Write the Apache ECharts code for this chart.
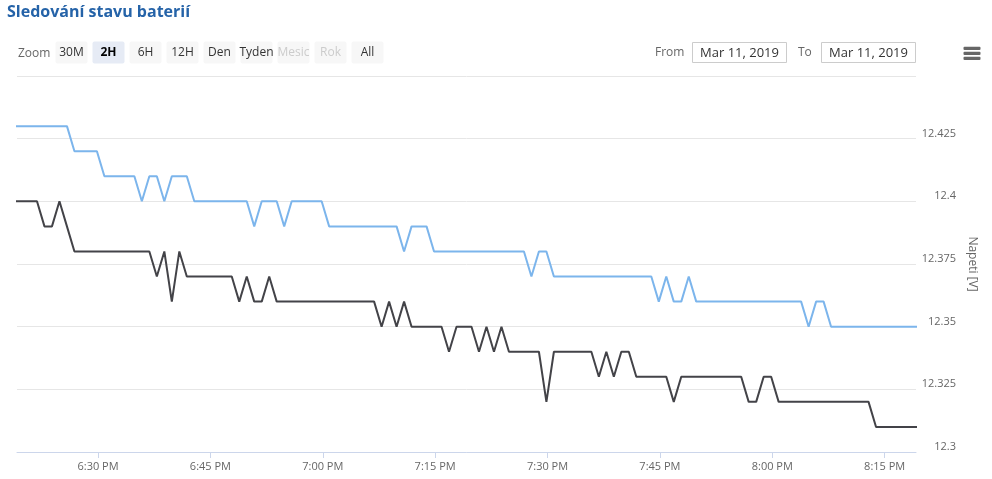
<!DOCTYPE html>
<html><head><meta charset="utf-8">
<script src="https://cdn.jsdelivr.net/npm/echarts@6/dist/echarts.min.js"></script>
<style>html,body{margin:0;padding:0;background:#fff}#c{width:992px;height:479px}</style>
</head><body><div id="c"></div>
<script>
// ---------- data ----------
const titleText = 'Sledování stavu baterií';
const yAxisName = 'Napeti [V]';
// one reading per minute, first reading 11 Mar 2019 18:17:51
const sampleStart = [2019, 2, 11, 18, 17, 51];
const sampleStepSec = 60;
const viewStart = [2019, 2, 11, 18, 19, 11];
const viewEnd   = [2019, 2, 11, 20, 19, 11];

const blueName = 'Baterie 1';
const blueValues = [
  12.43,12.43,12.43,12.43,12.43,12.43,12.43,12.43,12.43,
  12.42,12.42,12.42,12.42,
  12.41,12.41,12.41,12.41,12.41,
  12.40,12.41,12.41,12.40,12.41,12.41,12.41,
  12.40,12.40,12.40,12.40,12.40,12.40,12.40,12.40,
  12.39,12.40,12.40,12.40,12.39,
  12.40,12.40,12.40,12.40,12.40,
  12.39,12.39,12.39,12.39,12.39,12.39,12.39,12.39,12.39,12.39,
  12.38,12.39,12.39,12.39,
  12.38,12.38,12.38,12.38,12.38,12.38,12.38,12.38,12.38,12.38,12.38,12.38,12.38,
  12.37,12.38,12.38,
  12.37,12.37,12.37,12.37,12.37,12.37,12.37,12.37,12.37,12.37,12.37,12.37,12.37,12.37,
  12.36,12.37,12.36,12.36,12.37,
  12.36,12.36,12.36,12.36,12.36,12.36,12.36,12.36,12.36,12.36,12.36,12.36,12.36,12.36,12.36,
  12.35,12.36,12.36,
  12.35,12.35,12.35,12.35,12.35,12.35,12.35,12.35,12.35,12.35,12.35,12.35,12.35
];
const blackName = 'Baterie 2';
const blackValues = [
  12.40,12.40,12.40,12.40,12.40,
  12.39,12.39,12.40,12.39,
  12.38,12.38,12.38,12.38,12.38,12.38,12.38,12.38,12.38,12.38,12.38,
  12.37,12.38,12.36,12.38,
  12.37,12.37,12.37,12.37,12.37,12.37,12.37,
  12.36,12.37,12.36,12.36,12.37,
  12.36,12.36,12.36,12.36,12.36,12.36,12.36,12.36,12.36,12.36,12.36,12.36,12.36,12.36,
  12.35,12.36,12.35,12.36,
  12.35,12.35,12.35,12.35,12.35,
  12.34,12.35,12.35,12.35,12.34,12.35,12.34,12.35,
  12.34,12.34,12.34,12.34,12.34,
  12.32,
  12.34,12.34,12.34,12.34,12.34,12.34,
  12.33,12.34,12.33,12.34,12.34,
  12.33,12.33,12.33,12.33,12.33,
  12.32,
  12.33,12.33,12.33,12.33,12.33,12.33,12.33,12.33,12.33,
  12.32,12.32,12.33,12.33,
  12.32,12.32,12.32,12.32,12.32,12.32,12.32,12.32,12.32,12.32,12.32,12.32,12.32,
  12.31,12.31,12.31,12.31,12.31,12.31,12.31
];
const xTickTimes  = ['18:30','18:45','19:00','19:15','19:30','19:45','20:00','20:15'];
const xTickLabels = ['6:30 PM','6:45 PM','7:00 PM','7:15 PM','7:30 PM','7:45 PM','8:00 PM','8:15 PM'];
const yMin = 12.3, yMax = 12.45, yStep = 0.025;
const rangeButtons = ['30M','2H','6H','12H','Den','Tyden','Mesic','Rok','All'];
const rangeSelected = '2H';
const rangeDisabled = ['Mesic','Rok'];
const dateFrom = 'Mar 11, 2019';
const dateTo = 'Mar 11, 2019';

// ---------- build ----------
const d = a => new Date(a[0], a[1], a[2], a[3], a[4], a[5]).getTime();
const t0 = d(sampleStart);
const toPairs = vals => vals.map((v, i) => [t0 + i * sampleStepSec * 1000, v]);
const tickTs = xTickTimes.map(s => { const [h, m] = s.split(':').map(Number); return new Date(2019, 2, 11, h, m, 0).getTime(); });
const labelFor = {};
tickTs.forEach((t, i) => labelFor[t] = xTickLabels[i]);

const FONT = '"Open Sans", Arial, sans-serif';
const graphics = [];
graphics.push({ type: 'text', style: { text: 'Zoom', x: 18, y: 53.5, font: '12px ' + FONT, fill: '#666', textAlign: 'left', textVerticalAlign: 'middle' } });
rangeButtons.forEach((b, i) => {
  const x = 55.5 + i * 37;
  const sel = b === rangeSelected, dis = rangeDisabled.includes(b);
  graphics.push({ type: 'rect', shape: { x: x, y: 41.5, width: 32, height: 22, r: 2 }, style: { fill: sel ? '#e6ebf5' : '#f7f7f7' } });
  graphics.push({ type: 'text', style: { text: b, x: x + 16, y: 53, font: (sel ? 'bold ' : '') + '12px ' + FONT, fill: sel ? '#000' : (dis ? '#cccccc' : '#333'), textAlign: 'center', textVerticalAlign: 'middle' } });
});
graphics.push({ type: 'text', style: { text: 'From', x: 655, y: 53, font: '12px ' + FONT, fill: '#666', textAlign: 'left', textVerticalAlign: 'middle' } });
graphics.push({ type: 'rect', shape: { x: 692.5, y: 42.5, width: 94, height: 20 }, style: { fill: '#fff', stroke: '#cccccc', lineWidth: 1 } });
graphics.push({ type: 'text', style: { text: dateFrom, x: 739.5, y: 53, font: '13px ' + FONT, fill: '#333', textAlign: 'center', textVerticalAlign: 'middle' } });
graphics.push({ type: 'text', style: { text: 'To', x: 798, y: 53, font: '12px ' + FONT, fill: '#666', textAlign: 'left', textVerticalAlign: 'middle' } });
graphics.push({ type: 'rect', shape: { x: 821.5, y: 42.5, width: 94, height: 20 }, style: { fill: '#fff', stroke: '#cccccc', lineWidth: 1 } });
graphics.push({ type: 'text', style: { text: dateTo, x: 868.5, y: 53, font: '13px ' + FONT, fill: '#333', textAlign: 'center', textVerticalAlign: 'middle' } });
[46.7, 51.7, 56.7].forEach(y => graphics.push({ type: 'rect', shape: { x: 963.5, y: y, width: 17, height: 3.2, r: 1 }, style: { fill: '#666' } }));

const chart = echarts.init(document.getElementById('c'), null, { renderer: 'canvas' });
chart.setOption({
  animation: false,
  backgroundColor: '#fff',
  title: { text: titleText, left: 7, top: 4, padding: 0, textStyle: { fontFamily: FONT, fontSize: 16, fontWeight: 'bold', color: '#2563a8', lineHeight: 16 } },
  grid: { left: 17, right: 76, top: 76, bottom: 27, containLabel: false },
  xAxis: {
    type: 'value', min: d(viewStart), max: d(viewEnd),
    axisLine: { lineStyle: { color: '#ccd6eb', width: 1 } },
    axisTick: { show: true, length: 6, lineStyle: { color: '#ccd6eb' }, customValues: tickTs },
    axisLabel: { customValues: tickTs, formatter: v => labelFor[v] || '', color: '#666', fontSize: 11, fontFamily: FONT, margin: 9 },
    splitLine: { show: false }
  },
  yAxis: {
    type: 'value', position: 'right', min: yMin, max: yMax, interval: yStep,
    name: yAxisName, nameLocation: 'middle', nameRotate: -90, nameGap: 50,
    nameTextStyle: { color: '#666', fontSize: 12, fontFamily: FONT },
    axisLine: { show: false }, axisTick: { show: false },
    axisLabel: { showMaxLabel: false, align: 'right', margin: 40, verticalAlign: 'bottom', lineHeight: 10, color: '#666', fontSize: 11, fontFamily: FONT, formatter: v => String(+v.toFixed(3)) },
    splitLine: { lineStyle: { color: '#e6e6e6' } }
  },
  series: [
    { name: blueName, type: 'line', data: toPairs(blueValues), showSymbol: false, symbol: 'none', clip: true, lineStyle: { color: '#7cb5ec', width: 2 }, itemStyle: { color: '#7cb5ec' } },
    { name: blackName, type: 'line', data: toPairs(blackValues), showSymbol: false, symbol: 'none', clip: true, lineStyle: { color: '#434348', width: 2 }, itemStyle: { color: '#434348' } }
  ],
  graphic: graphics
});
</script></body></html>
